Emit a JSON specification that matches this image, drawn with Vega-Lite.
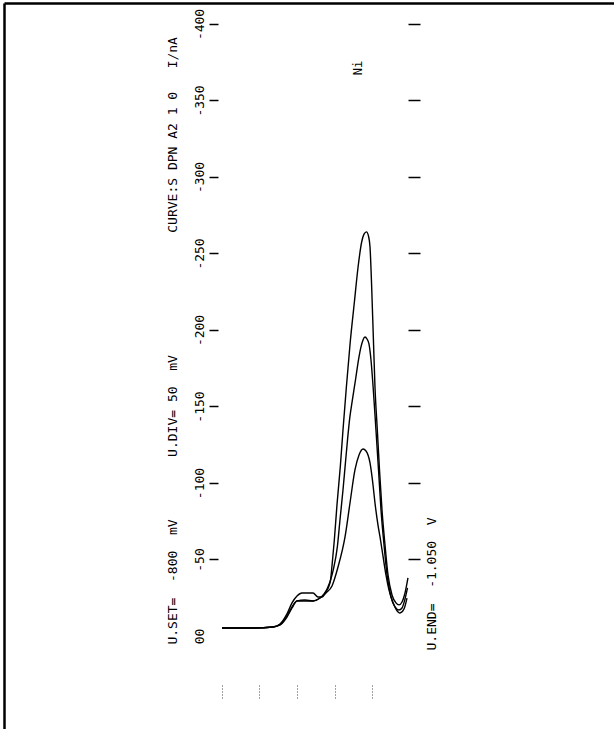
{
  "$schema": "https://vega.github.io/schema/vega-lite/v6.json",
  "width": 610,
  "height": 726,
  "padding": {"left": 4, "top": 3, "right": 0, "bottom": 0},
  "autosize": {"type": "none"},
  "background": "white",
  "config": {"view": {"stroke": null}, "axis": {"grid": false}},
  "datasets": {
    "curves": [
      {"curve": "A", "mV": -800.3, "nA": -5.2}, {"curve": "A", "mV": -837.5, "nA": -5.2}, {"curve": "A", "mV": -868.0, "nA": -5.9}, {"curve": "A", "mV": -877.3, "nA": -7.8}, {"curve": "A", "mV": -886.6, "nA": -14.4}, {"curve": "A", "mV": -893.3, "nA": -21.6}, {"curve": "A", "mV": -899.9, "nA": -26.1}, {"curve": "A", "mV": -906.5, "nA": -28.1}, {"curve": "A", "mV": -921.2, "nA": -28.1}, {"curve": "A", "mV": -927.8, "nA": -25.5}, {"curve": "A", "mV": -933.1, "nA": -25.5}, {"curve": "A", "mV": -938.4, "nA": -28.8}, {"curve": "A", "mV": -942.4, "nA": -32.7}, {"curve": "A", "mV": -944.5, "nA": -36.6}, {"curve": "A", "mV": -946.5, "nA": -46.4}, {"curve": "A", "mV": -949.5, "nA": -62.7}, {"curve": "A", "mV": -953.0, "nA": -85.6}, {"curve": "A", "mV": -957.5, "nA": -111.1}, {"curve": "A", "mV": -961.0, "nA": -134.6}, {"curve": "A", "mV": -965.5, "nA": -162.7}, {"curve": "A", "mV": -970.5, "nA": -191.5}, {"curve": "A", "mV": -976.0, "nA": -217.6}, {"curve": "A", "mV": -981.0, "nA": -241.0}, {"curve": "A", "mV": -985.8, "nA": -257.5}, {"curve": "A", "mV": -988.9, "nA": -262.6}, {"curve": "A", "mV": -992.2, "nA": -264.1}, {"curve": "A", "mV": -994.9, "nA": -261.3}, {"curve": "A", "mV": -996.9, "nA": -254.2}, {"curve": "A", "mV": -999.1, "nA": -228.1}, {"curve": "A", "mV": -1001.3, "nA": -195.4}, {"curve": "A", "mV": -1003.5, "nA": -162.7}, {"curve": "A", "mV": -1006.6, "nA": -134.6}, {"curve": "A", "mV": -1009.5, "nA": -108.5}, {"curve": "A", "mV": -1012.8, "nA": -82.4}, {"curve": "A", "mV": -1016.8, "nA": -59.5}, {"curve": "A", "mV": -1020.8, "nA": -39.9}, {"curve": "A", "mV": -1026.1, "nA": -26.8}, {"curve": "A", "mV": -1031.4, "nA": -21.6}, {"curve": "A", "mV": -1035.4, "nA": -20.3}, {"curve": "A", "mV": -1039.4, "nA": -22.2}, {"curve": "A", "mV": -1043.4, "nA": -28.1}, {"curve": "A", "mV": -1047.3, "nA": -37.9},
      {"curve": "B", "mV": -800.3, "nA": -5.2}, {"curve": "B", "mV": -837.5, "nA": -5.2}, {"curve": "B", "mV": -868.0, "nA": -5.9}, {"curve": "B", "mV": -877.3, "nA": -7.2}, {"curve": "B", "mV": -886.6, "nA": -13.1}, {"curve": "B", "mV": -893.3, "nA": -19.0}, {"curve": "B", "mV": -899.9, "nA": -22.9}, {"curve": "B", "mV": -921.2, "nA": -22.9}, {"curve": "B", "mV": -930.5, "nA": -24.8}, {"curve": "B", "mV": -935.8, "nA": -27.5}, {"curve": "B", "mV": -939.8, "nA": -30.7}, {"curve": "B", "mV": -944.5, "nA": -36.6}, {"curve": "B", "mV": -948.0, "nA": -43.1}, {"curve": "B", "mV": -953.5, "nA": -58.2}, {"curve": "B", "mV": -957.0, "nA": -75.8}, {"curve": "B", "mV": -961.0, "nA": -95.4}, {"curve": "B", "mV": -964.0, "nA": -111.8}, {"curve": "B", "mV": -967.0, "nA": -128.1}, {"curve": "B", "mV": -970.0, "nA": -142.5}, {"curve": "B", "mV": -973.5, "nA": -154.3}, {"curve": "B", "mV": -978.0, "nA": -168.6}, {"curve": "B", "mV": -981.6, "nA": -180.4}, {"curve": "B", "mV": -984.9, "nA": -188.9}, {"curve": "B", "mV": -987.6, "nA": -193.5}, {"curve": "B", "mV": -990.2, "nA": -195.4}, {"curve": "B", "mV": -992.9, "nA": -194.1}, {"curve": "B", "mV": -995.5, "nA": -190.9}, {"curve": "B", "mV": -998.2, "nA": -180.4}, {"curve": "B", "mV": -1001.3, "nA": -160.8}, {"curve": "B", "mV": -1004.8, "nA": -134.6}, {"curve": "B", "mV": -1008.2, "nA": -108.5}, {"curve": "B", "mV": -1011.5, "nA": -82.4}, {"curve": "B", "mV": -1015.5, "nA": -59.5}, {"curve": "B", "mV": -1019.5, "nA": -39.9}, {"curve": "B", "mV": -1024.8, "nA": -25.5}, {"curve": "B", "mV": -1030.1, "nA": -19.0}, {"curve": "B", "mV": -1035.4, "nA": -17.0}, {"curve": "B", "mV": -1039.4, "nA": -18.3}, {"curve": "B", "mV": -1043.4, "nA": -24.2}, {"curve": "B", "mV": -1046.7, "nA": -31.4},
      {"curve": "C", "mV": -800.3, "nA": -5.2}, {"curve": "C", "mV": -837.5, "nA": -5.2}, {"curve": "C", "mV": -868.0, "nA": -5.9}, {"curve": "C", "mV": -877.3, "nA": -7.2}, {"curve": "C", "mV": -886.6, "nA": -12.4}, {"curve": "C", "mV": -893.3, "nA": -18.3}, {"curve": "C", "mV": -899.9, "nA": -22.9}, {"curve": "C", "mV": -910.5, "nA": -23.5}, {"curve": "C", "mV": -921.2, "nA": -22.9}, {"curve": "C", "mV": -930.5, "nA": -24.8}, {"curve": "C", "mV": -938.4, "nA": -28.1}, {"curve": "C", "mV": -946.4, "nA": -32.7}, {"curve": "C", "mV": -954.4, "nA": -45.1}, {"curve": "C", "mV": -963.7, "nA": -64.7}, {"curve": "C", "mV": -970.3, "nA": -86.9}, {"curve": "C", "mV": -976.9, "nA": -108.5}, {"curve": "C", "mV": -982.3, "nA": -118.3}, {"curve": "C", "mV": -987.6, "nA": -122.2}, {"curve": "C", "mV": -991.6, "nA": -120.9}, {"curve": "C", "mV": -996.9, "nA": -113.1}, {"curve": "C", "mV": -1000.9, "nA": -98.7}, {"curve": "C", "mV": -1003.5, "nA": -86.9}, {"curve": "C", "mV": -1007.5, "nA": -72.5}, {"curve": "C", "mV": -1010.2, "nA": -64.7}, {"curve": "C", "mV": -1014.1, "nA": -52.3}, {"curve": "C", "mV": -1018.1, "nA": -39.9}, {"curve": "C", "mV": -1022.1, "nA": -30.1}, {"curve": "C", "mV": -1026.1, "nA": -23.5}, {"curve": "C", "mV": -1031.4, "nA": -17.6}, {"curve": "C", "mV": -1036.7, "nA": -15.0}, {"curve": "C", "mV": -1042.0, "nA": -17.6}, {"curve": "C", "mV": -1046.0, "nA": -24.8}
    ],
    "notes": [
      {"label": "CURVE:S DPN A2 1 0\u00a0\u00a0\u00a0I/nA", "mV": -735.2, "nA": -327.5},
      {"label": "U.DIV=\u00a050\u00a0\u00a0mV", "mV": -735.2, "nA": -150.3},
      {"label": "U.SET=\u00a0\u00a0-800\u00a0\u00a0mV", "mV": -735.2, "nA": -35.3},
      {"label": "U.END=\u00a0\u00a0-1.050\u00a0\u00a0V", "mV": -1079.2, "nA": -34.0}
    ],
    "peak": [
      {"label": "Ni", "mV": -980.9, "nA": -371.2}
    ]
  },
  "resolve": {"axis": {"x": "independent", "y": "independent"}},
  "layer": [
    {
      "data": {"name": "curves"},
      "mark": {"type": "line", "color": "black", "strokeWidth": 1.4, "interpolate": "monotone"},
      "encoding": {
        "x": {"field": "mV", "type": "quantitative", "sort": null,
          "scale": {"domain": [-510.7, -1321.0], "nice": false, "zero": false},
          "axis": {"orient": "bottom", "offset": -44, "values": [-800, -850, -900, -950, -1000], "labels": false, "domain": false, "grid": false, "ticks": true, "tickSize": 14, "tickDash": [1, 2], "tickColor": "#444", "tickWidth": 1, "title": null}},
        "y": {"field": "nA", "type": "quantitative",
          "scale": {"domain": [60.8, -413.7], "nice": false, "zero": false},
          "axis": {"orient": "left", "offset": -214, "values": [0, -50, -100, -150, -200, -250, -300, -350, -400], "domain": false, "grid": false, "tickSize": 9, "tickColor": "#000", "tickWidth": 1.5, "tickOpacity": {"condition": {"test": "datum.value == 0", "value": 0}, "value": 1}, "labelAngle": 270, "labelAlign": "center", "labelBaseline": "alphabetic", "labelPadding": 6, "labelFont": "DejaVu Sans Mono", "labelFontSize": 13, "labelColor": "#000", "labelOverlap": false, "labelBound": false, "labelFlush": false, "labelExpr": "datum.value == 0 ? '00' : '' + datum.value", "title": null}},
        "detail": {"field": "curve"}
      }
    },
    {
      "data": {"name": "notes"},
      "mark": {"type": "text", "angle": 270, "font": "DejaVu Sans Mono", "fontSize": 13, "align": "center", "baseline": "middle", "color": "black"},
      "encoding": {
        "x": {"field": "mV", "type": "quantitative",
          "scale": {"domain": [-510.7, -1321.0], "nice": false, "zero": false},
          "axis": {"orient": "top", "offset": 0, "domain": true, "domainColor": "#000", "domainWidth": 2.5, "ticks": false, "labels": false, "grid": false, "title": null}},
        "y": {"field": "nA", "type": "quantitative",
          "scale": {"domain": [60.8, -413.7], "nice": false, "zero": false},
          "axis": {"orient": "left", "offset": 0, "domain": true, "domainColor": "#000", "domainWidth": 2.5, "ticks": false, "labels": false, "grid": false, "title": null}},
        "text": {"field": "label"}
      }
    },
    {
      "data": {"name": "peak"},
      "mark": {"type": "text", "angle": 270, "font": "DejaVu Sans Mono", "fontSize": 12, "align": "center", "baseline": "middle", "color": "black"},
      "encoding": {
        "x": {"field": "mV", "type": "quantitative",
          "scale": {"domain": [-510.7, -1321.0], "nice": false, "zero": false},
          "axis": null},
        "y": {"field": "nA", "type": "quantitative",
          "scale": {"domain": [60.8, -413.7], "nice": false, "zero": false},
          "axis": {"orient": "right", "offset": -206, "values": [-50, -100, -150, -200, -250, -300, -350, -400], "domain": false, "labels": false, "grid": false, "tickSize": 12, "tickWidth": 1.5, "tickColor": "#000", "title": null}},
        "text": {"field": "label"}
      }
    }
  ]
}
